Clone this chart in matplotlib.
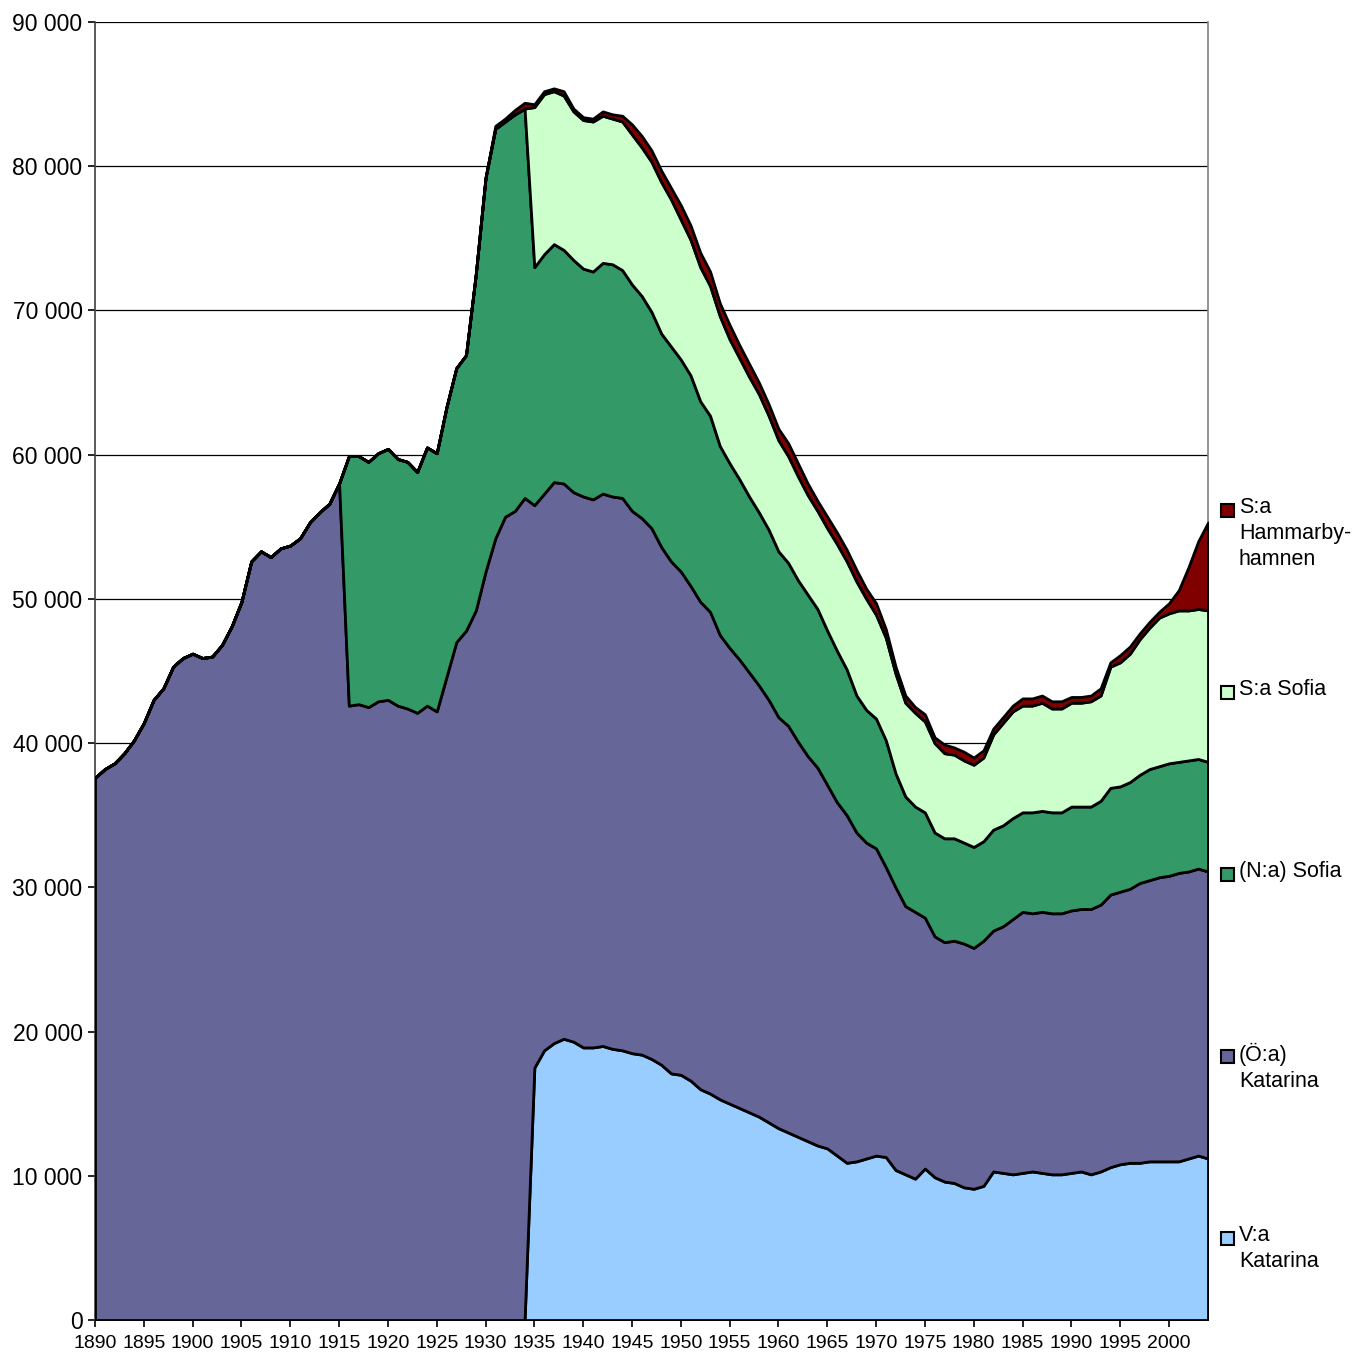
import matplotlib
matplotlib.use("Agg")
import matplotlib.pyplot as plt
from matplotlib.patches import Rectangle
import numpy as np

# ── Data (inhabitants per parish, 1890-2004) ──

YEARS = list(range(1890, 2005))

# V:a Katarina: 0 until 1934
VA_KATARINA = [0] * 45 + [
    17500, 18700, 19200, 19500, 19300, 18900, 18900, 19000, 18800, 18700,  # 1935-44
    18500, 18400, 18100, 17700, 17100, 17000, 16600, 16000, 15700, 15300,  # 1945-54
    15000, 14700, 14400, 14100, 13700, 13300, 13000, 12700, 12400, 12100,  # 1955-64
    11900, 11400, 10900, 11000, 11200, 11400, 11300, 10400, 10100, 9800,   # 1965-74
    10500, 9900, 9600, 9500, 9200, 9100, 9300, 10300, 10200, 10100,        # 1975-84
    10200, 10300, 10200, 10100, 10100, 10200, 10300, 10100, 10300, 10600,  # 1985-94
    10800, 10900, 10900, 11000, 11000, 11000, 11000, 11200, 11400, 11200,  # 1995-2004
]

OA_KATARINA = [
    37600, 38200, 38600, 39300, 40200, 41400, 43000, 43800, 45300, 45900,  # 1890-99
    46200, 45900, 46000, 46800, 48100, 49800, 52600, 53300, 52900, 53500,  # 1900-09
    53700, 54200, 55300, 56000, 56600, 58000, 42600, 42700, 42500, 42900,  # 1910-19
    43000, 42600, 42400, 42100, 42600, 42200, 44600, 47000, 47800, 49200,  # 1920-29
    51900, 54200, 55700, 56100, 57000, 39000, 38600, 38900, 38500, 38100,  # 1930-39
    38200, 38000, 38300, 38300, 38300, 37600, 37200, 36800, 35900, 35500,  # 1940-49
    34900, 34300, 33800, 33400, 32200, 31600, 31100, 30500, 29900, 29300,  # 1950-59
    28500, 28200, 27400, 26700, 26200, 25200, 24500, 24100, 22800, 21900,  # 1960-69
    21300, 20100, 19600, 18600, 18500, 17400, 16700, 16600, 16800, 16900,  # 1970-79
    16700, 17000, 16700, 17100, 17700, 18100, 17900, 18100, 18100, 18100,  # 1980-89
    18200, 18200, 18400, 18500, 18900, 18900, 19000, 19400, 19500, 19700,  # 1990-99
    19800, 20000, 19900, 19900, 19900,                                     # 2000-04
]

NA_SOFIA = [0] * 26 + [
    17300, 17200, 17000, 17200,                                            # 1916-19
    17400, 17100, 17100, 16700, 17900, 17900, 18700, 19000, 19100, 23300,  # 1920-29
    27300, 28400, 27400, 27500, 27000, 16500, 16600, 16500, 16200, 16100,  # 1930-39
    15800, 15800, 16000, 16100, 15800, 15700, 15400, 15000, 14800, 14900,  # 1940-49
    14700, 14600, 13900, 13600, 13100, 12800, 12500, 12200, 12000, 11800,  # 1950-59
    11500, 11300, 11200, 11200, 11000, 10700, 10500, 10100, 9500, 9200,    # 1960-69
    9000, 8800, 7900, 7600, 7300, 7300, 7200, 7200, 7100, 7000,            # 1970-79
    7000, 6900, 7000, 7000, 7000, 6900, 7000, 7000, 7000, 7000,            # 1980-89
    7200, 7100, 7100, 7200, 7400, 7300, 7400, 7500, 7700, 7700,            # 1990-99
    7800, 7700, 7700, 7600, 7600,                                          # 2000-04
]

SA_SOFIA = [0] * 45 + [
    11100, 11100, 10600, 10700, 10300, 10300, 10400, 10200, 10100, 10300,  # 1935-44
    10400, 10300, 10400, 10500, 10200, 9700, 9400, 9300, 9000, 9000,       # 1945-54
    8600, 8400, 8300, 8200, 7900, 7700, 7400, 7200, 6900, 6800,            # 1955-64
    7100, 7400, 7500, 7900, 7700, 7200, 7100, 6900, 6500, 6500,            # 1965-74
    6300, 6200, 5900, 5800, 5700, 5700, 5800, 6600, 7100, 7400,            # 1975-84
    7400, 7400, 7500, 7200, 7200, 7200, 7200, 7300, 7300, 8400,            # 1985-94
    8600, 8900, 9400, 9800, 10300, 10400, 10500, 10400, 10400, 10500,      # 1995-2004
]

SA_HAMMARBY = [0] * 41 + [
    200, 200, 300, 400,                                                    # 1931-34
    200, 200, 200, 300, 200, 200, 200, 300, 300, 400,                      # 1935-44
    700, 800, 800, 800, 800, 1000, 1000, 1000, 1000, 900,                  # 1945-54
    1000, 900, 900, 800, 800, 800, 900, 900, 800, 700,                     # 1955-64
    800, 800, 800, 800, 700, 800, 600, 500, 500, 400,                      # 1965-74
    500, 400, 600, 500, 600, 500, 500, 400, 400, 400,                      # 1975-84
    500, 500, 500, 500, 500, 400, 400, 400, 500, 300,                      # 1985-94
    500, 500, 400, 400, 400, 700, 1400, 3000, 4700, 6100,                  # 1995-2004
]

SERIES = ["V:a\nKatarina", "(Ö:a)\nKatarina", "(N:a) Sofia", "S:a Sofia", "S:a\nHammarby-\nhamnen"]
COLORS = ["#99CCFF", "#666699", "#339966", "#CCFFCC", "#800000"]

X_TICKS = list(range(1890, 2001, 5))
Y_TICKS = list(range(0, 90001, 10000))


def fmt_thousands(v):
    return f"{v:,}".replace(",", " ")


def main():
    W = H = 1353
    fig = plt.figure(figsize=(W / 100, H / 100), dpi=100)
    ax = fig.add_axes([95 / W, 1 - 1320 / H, (1208 - 95) / W, (1320 - 22) / H])

    ax.stackplot(YEARS, VA_KATARINA, OA_KATARINA, NA_SOFIA, SA_SOFIA, SA_HAMMARBY,
                 colors=COLORS, edgecolor="black", linewidth=2.0, zorder=3)

    ax.set_xlim(1890, 2004)
    ax.set_ylim(0, 90000)
    ax.set_yticks(Y_TICKS)
    ax.set_yticklabels([fmt_thousands(v) for v in Y_TICKS],
                       fontfamily=["Liberation Sans", "DejaVu Sans"], fontsize=16.5)
    ax.set_xticks(X_TICKS)
    ax.set_xticklabels([str(y) for y in X_TICKS],
                       fontfamily=["Liberation Sans Narrow", "Liberation Sans"], fontsize=14)
    ax.tick_params(axis="both", direction="out", length=5, width=1.2, color="black")
    ax.tick_params(axis="x", pad=6)
    ax.tick_params(axis="y", pad=4)

    ax.yaxis.grid(True, color="black", linewidth=0.9, zorder=1)
    ax.set_axisbelow(True)
    ax.spines["top"].set_visible(False)
    ax.spines["right"].set_color("#808080")
    ax.spines["right"].set_linewidth(1.2)
    for side in ["left", "bottom"]:
        ax.spines[side].set_color("#404040")
        ax.spines[side].set_linewidth(1.2)

    # Legend on the right, top entry first
    legend_y = [510, 692, 874, 1056, 1238]
    for label, color, yp in zip(SERIES[::-1], COLORS[::-1], legend_y):
        fig.patches.append(Rectangle((1221 / W, 1 - (yp + 7) / H), 13 / W, 13 / H,
                                     transform=fig.transFigure, facecolor=color,
                                     edgecolor="black", linewidth=1.5))
        fig.text(1239 / W, 1 - (yp - 13) / H, label, ha="left", va="top",
                 fontsize=15.5, family=["Liberation Sans", "DejaVu Sans"], linespacing=1.3)

    fig.savefig("out.png", dpi=100)
    plt.close(fig)


if __name__ == "__main__":
    main()
